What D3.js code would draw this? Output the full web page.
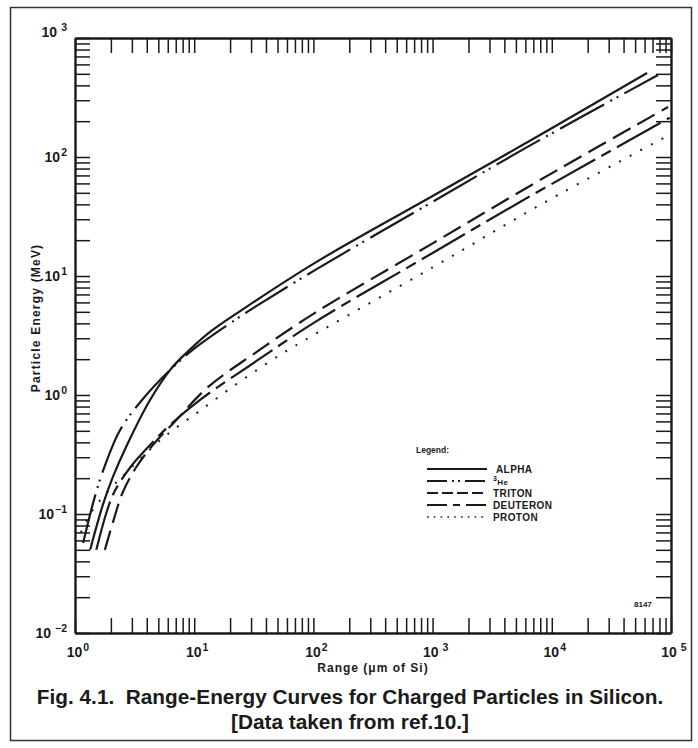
<!DOCTYPE html>
<html>
<head>
<meta charset="utf-8">
<script src="https://cdn.jsdelivr.net/npm/d3@7/dist/d3.min.js"></script>
<style>
  body{margin:0;background:#fff}
  svg{display:block}
  text{font-family:"Liberation Sans",Arial,Helvetica,sans-serif;font-weight:bold;fill:#1a1a1a}
</style>
</head>
<body>
<svg id="chart" width="698" height="748"></svg>
<script>
// range in um of Si, energy in MeV
var alphaRange  = [1.34, 1.72, 2.08, 2.73, 4.26, 6.27, 7.9, 13.1, 25.2, 103, 1000, 7960, 63000];
var alphaEnergy = [0.05, 0.121, 0.205, 0.38, 0.908, 1.62, 2.08, 3.3, 5.2, 12.9, 47, 153, 508];

var he3Range  = [1.17, 1.42, 1.69, 2.39, 3.65, 6.27, 10, 22, 32.4, 103, 1000, 6200, 77800];
var he3Energy = [0.057, 0.124, 0.22, 0.508, 0.908, 1.62, 2.45, 4.27, 5.5, 11.2, 42, 121, 489];

var tritonRange  = [1.78, 2.08, 2.5, 3.2, 4.5, 6.9, 13.1, 32.4, 103, 1000, 7960, 94400];
var tritonEnergy = [0.05, 0.085, 0.15, 0.24, 0.38, 0.60, 1.17, 2.25, 4.9, 18.8, 64, 263];

var deuteronRange  = [1.51, 1.82, 2.08, 2.39, 3.0, 4.26, 6.27, 11.2, 34.3, 103, 1000, 5410, 97700];
var deuteronEnergy = [0.05, 0.10, 0.145, 0.186, 0.257, 0.38, 0.56, 0.91, 1.97, 4.1, 15.6, 41.9, 214];

var protonRange  = [1.12, 1.34, 1.6, 2.08, 2.48, 3.51, 5.37, 7.31, 10.8, 19.2, 45, 85, 1000, 7960, 100000];
var protonEnergy = [0.07, 0.10, 0.128, 0.172, 0.205, 0.29, 0.43, 0.545, 0.72, 1.10, 1.97, 2.9, 11.8, 39.5, 156];

var xExponents = [0, 1, 2, 3, 4, 5];
var yExponents = [-2, -1, 0, 1, 2, 3];
var legendNames = ["ALPHA", "He", "TRITON", "DEUTERON", "PROTON"];

var svg = d3.select("#chart");
var ink = "#1a1a1a";

var x = d3.scaleLog().domain([1, 1e5]).range([75, 671]);
var y = d3.scaleLog().domain([1e-2, 1e3]).range([633, 38]);

// outer frame
svg.append("rect").attr("x", 10.5).attr("y", 7.5).attr("width", 681).attr("height", 733)
   .attr("fill", "none").attr("stroke", "#333").attr("stroke-width", 1.5);

// axes: all ticks point inwards, no labels from d3
function styleAxis(g){
    g.select(".domain").attr("stroke", ink).attr("stroke-width", 2.4);
    g.selectAll(".tick line").attr("stroke", ink).attr("stroke-width", 1.5);
    g.selectAll(".tick text").remove();
}
var xt = x.ticks(), yt = y.ticks();
svg.append("g").attr("transform", "translate(0,633)")
   .call(d3.axisTop(x).tickValues(xt).tickSize(15).tickSizeOuter(0).tickFormat("")).call(styleAxis);
svg.append("g").attr("transform", "translate(0,38)")
   .call(d3.axisBottom(x).tickValues(xt).tickSize(15).tickSizeOuter(0).tickFormat("")).call(styleAxis);
svg.append("g").attr("transform", "translate(75,0)")
   .call(d3.axisRight(y).tickValues(yt).tickSize(15).tickSizeOuter(0).tickFormat("")).call(styleAxis);
svg.append("g").attr("transform", "translate(671,0)")
   .call(d3.axisLeft(y).tickValues(yt).tickSize(15).tickSizeOuter(0).tickFormat("")).call(styleAxis);

// tick labels like 10^n
function power(sel, e){
    sel.append("tspan").text("10");
    sel.append("tspan").attr("dy", -6).attr("dx", (e == 5 || e == 3 || e == -2) ? 4 : 1)
       .attr("font-size", 10.5).text(e < 0 ? "\u2212" + (-e) : e);
}
xExponents.forEach(function(e){
    svg.append("text").attr("x", x(Math.pow(10, e)) + 3).attr("y", 657)
       .attr("text-anchor", "middle").attr("font-size", 14).call(power, e);
});
yExponents.forEach(function(e){
    svg.append("text").attr("x", 67).attr("y", y(Math.pow(10, e)) + 5 - (e == 3 ? 6 : 0))
       .attr("text-anchor", "end").attr("font-size", 14).call(power, e);
});

// axis titles
svg.append("text").attr("x", 373).attr("y", 672).attr("text-anchor", "middle")
   .attr("font-size", 12).attr("letter-spacing", 1).text("Range (\u03bcm of Si)");
svg.append("text").attr("transform", "translate(40,318) rotate(-90)").attr("text-anchor", "middle")
   .attr("font-size", 12).attr("letter-spacing", 1.2).text("Particle Energy (MeV)");

// curves
var series = [
    {range: alphaRange, energy: alphaEnergy, dash: null, legDash: null},
    {range: he3Range, energy: he3Energy, dash: "50,7,2,5,2,7", legDash: "20,5,2,4,2,5"},
    {range: tritonRange, energy: tritonEnergy, dash: "20,8", legDash: "11,4"},
    {range: deuteronRange, energy: deuteronEnergy, dash: "50,7,11,7", legDash: "20,6,7,6"},
    {range: protonRange, energy: protonEnergy, dash: "2,10", legDash: "1.6,5.2"}
];
var line = d3.line().x(function(d){ return x(d[0]); }).y(function(d){ return y(d[1]); })
             .curve(d3.curveCatmullRom.alpha(0.5));
series.forEach(function(s){
    var pts = s.range.map(function(r, i){ return [r, s.energy[i]]; });
    svg.append("path").datum(pts).attr("d", line).attr("fill", "none")
       .attr("stroke", ink).attr("stroke-width", s.dash == "2,10" ? 2 : 2.2)
       .attr("stroke-dasharray", s.dash);
});

// legend
var lg = svg.append("g").attr("transform", "translate(416,0)");
lg.append("text").attr("x", 0).attr("y", 453).attr("font-size", 8.5).text("Legend:");
series.forEach(function(s, i){
    var ly = 469 + i * 12;
    lg.append("line").attr("x1", 11).attr("x2", 71).attr("y1", ly).attr("y2", ly)
      .attr("stroke", ink).attr("stroke-width", s.dash == "2,10" ? 1.4 : 2)
      .attr("stroke-dasharray", s.legDash);
    var t = lg.append("text").attr("x", i == 0 ? 80 : 77).attr("y", ly + 4)
              .attr("font-size", 10).attr("letter-spacing", 0.4);
    if (i == 1) {
        t.append("tspan").attr("font-size", 7).attr("dy", -4).text("3");
        t.append("tspan").attr("font-size", 8).attr("dy", 4).text(legendNames[i]);
    } else {
        t.text(legendNames[i]);
    }
});

svg.append("text").attr("x", 634).attr("y", 607).attr("font-size", 8).attr("font-weight", "normal").text("8147");

// caption
svg.append("text").attr("x", 350).attr("y", 704).attr("text-anchor", "middle").attr("font-size", 20.8)
   .attr("fill", "#222").style("white-space", "pre")
   .text("Fig. 4.1.  Range-Energy Curves for Charged Particles in Silicon.");
svg.append("text").attr("x", 350).attr("y", 729).attr("text-anchor", "middle").attr("font-size", 20.8)
   .attr("fill", "#222").text("[Data taken from ref.10.]");
</script>
</body>
</html>
